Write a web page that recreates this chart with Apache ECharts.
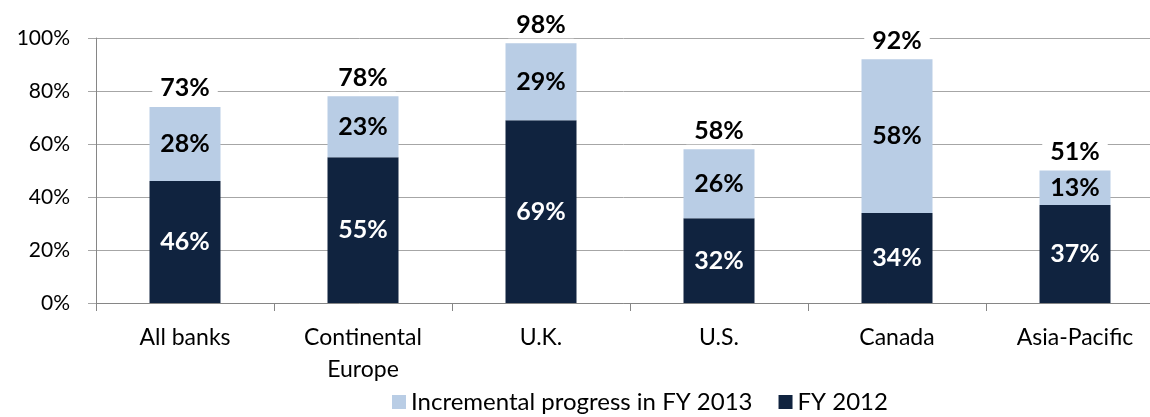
<!DOCTYPE html>
<html>
<head>
<meta charset="utf-8">
<script src="https://cdn.jsdelivr.net/npm/echarts@6/dist/echarts.min.js"></script>
<style>
  html, body { margin: 0; padding: 0; background: #fff; }
  #chart { width: 1150px; height: 417px; }
</style>
</head>
<body>
<div id="chart"></div>
<script>
const categories = ['All banks', 'Continental\nEurope', 'U.K.', 'U.S.', 'Canada', 'Asia-Pacific']
const fy2012 = [46, 55, 69, 32, 34, 37]
const incremental = [28, 23, 29, 26, 58, 13]
const totals = [73, 78, 98, 58, 92, 51]
const yTicks = [0, 20, 40, 60, 80, 100]

const font = 'Lato, "Open Sans", sans-serif'
const chart = echarts.init(document.getElementById('chart'))

const option = {
    animation: false,
    textStyle: { fontFamily: font },
    grid: { left: 96, top: 38, width: 1068, bottom: 114, outerBoundsMode: 'none', containLabel: false },
    legend: {
        data: ['Incremental progress in FY 2013', 'FY 2012'],
        top: 390,
        left: 392,
        padding: 0,
        icon: 'rect',
        itemWidth: 14,
        itemHeight: 14,
        itemGap: 26,
        textStyle: { fontSize: 24, color: '#000', fontFamily: font }
    },
    xAxis: {
        type: 'category',
        data: categories,
        axisLine: { lineStyle: { color: '#868686' } },
        axisTick: { show: true, length: 8, alignWithLabel: false, lineStyle: { color: '#868686' } },
        axisLabel: { fontSize: 23, color: '#000', margin: 19, lineHeight: 32, fontFamily: font }
    },
    yAxis: {
        type: 'value',
        min: yTicks[0],
        max: yTicks[yTicks.length - 1],
        interval: 20,
        axisLine: { show: true, lineStyle: { color: '#868686' } },
        axisTick: { show: true, length: 8, lineStyle: { color: '#a6a6a6' } },
        splitLine: { lineStyle: { color: '#a6a6a6' } },
        axisLabel: { fontSize: 21, color: '#000', margin: 26, formatter: '{value}%', fontFamily: font }
    },
    series: [
        {
            name: 'FY 2012',
            type: 'bar',
            stack: 'a',
            barWidth: 71,
            data: fy2012,
            itemStyle: { color: '#10233f' },
            label: {
                show: true, position: 'inside', color: '#fff', fontWeight: 'bold', fontSize: 25,
                formatter: '{c}%', fontFamily: font
            }
        },
        {
            name: 'Incremental progress in FY 2013',
            type: 'bar',
            stack: 'a',
            data: incremental,
            itemStyle: { color: '#b9cde5' },
            label: {
                show: true, position: 'inside', color: '#000', fontWeight: 'bold', fontSize: 25,
                formatter: '{c}%', fontFamily: font
            }
        },
        {
            name: 'Total',
            type: 'bar',
            stack: 'a',
            data: totals.map(() => 0),
            itemStyle: { color: 'transparent' },
            label: {
                show: true, position: 'top', distance: 5, color: '#000', fontWeight: 'bold', fontSize: 25,
                backgroundColor: '#fff', padding: [1, 8],
                formatter: p => totals[p.dataIndex] + '%', fontFamily: font
            }
        }
    ]
}

option && chart.setOption(option)
</script>
</body>
</html>
